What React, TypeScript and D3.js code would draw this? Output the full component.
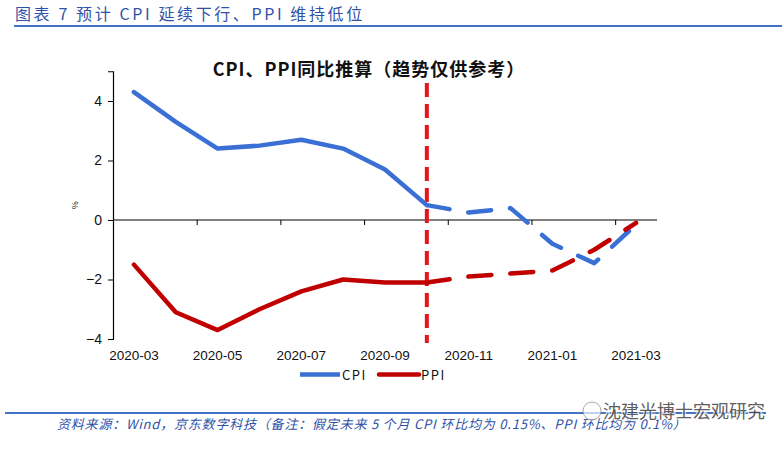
import React, { useEffect, useRef } from 'react';
import * as d3 from 'd3';

const months = [
  '2020-03', '2020-04', '2020-05', '2020-06', '2020-07', '2020-08', '2020-09',
  '2020-10', '2020-11', '2020-12', '2021-01', '2021-02', '2021-03',
];
const cpi = [4.3, 3.3, 2.4, 2.5, 2.7, 2.4, 1.7, 0.5, 0.25, 0.4, -0.8, -1.45, -0.15];
const ppi = [-1.5, -3.1, -3.7, -3.0, -2.4, -2.0, -2.1, -2.1, -1.9, -1.8, -1.7, -1.0, -0.1];
const yTicks = [-4, -2, 0, 2, 4];
// last actual month, forecast starts after it
const splitIndex = 7;

const CPI_COLOR = '#3a6fd6';
const PPI_COLOR = '#c00000';
const MARK_COLOR = '#e4161c';
const BLUE_TEXT = '#2f52a8';
const CJK = '"Noto Sans CJK SC", "Noto Sans", sans-serif';
const LATIN = '"Liberation Sans", Arial, sans-serif';

const App: React.FC = () => {
  const svgRef = useRef<SVGSVGElement>(null);
  const width = 782;
  const height = 451;

  useEffect(() => {
    if (!svgRef.current) return;
    const svg = d3.select(svgRef.current);
    svg.selectAll('*').remove();

    // header
    svg.append('text')
      .attr('x', 15)
      .attr('y', 20)
      .attr('font-family', CJK)
      .attr('font-size', 16)
      .attr('letter-spacing', 2.6)
      .attr('fill', BLUE_TEXT)
      .text('图表 7 预计 CPI 延续下行、PPI 维持低位');
    svg.append('line')
      .attr('x1', 14).attr('x2', width)
      .attr('y1', 26).attr('y2', 26)
      .attr('stroke', '#4472c4')
      .attr('stroke-width', 2);

    // scales
    const x = d3.scaleLinear().domain([-0.5, months.length - 0.5]).range([113, 657]);
    const y = d3.scaleLinear().domain([-4, 5]).range([339, 71.25]);

    // title
    svg.append('text')
      .attr('x', 369)
      .attr('y', 76)
      .attr('text-anchor', 'middle')
      .attr('font-family', CJK)
      .attr('font-size', 18)
      .attr('font-weight', 'bold')
      .attr('letter-spacing', 1)
      .attr('fill', '#111')
      .text('CPI、PPI同比推算（趋势仅供参考）');

    // y axis
    const yAxis = d3.axisLeft(y).tickValues(yTicks).tickSize(5).tickPadding(6);
    const yG = svg.append('g')
      .attr('transform', `translate(${x(-0.5)},0)`)
      .call(yAxis);
    yG.select('.domain').attr('stroke', '#000').attr('stroke-width', 1.2);
    yG.selectAll('.tick line').attr('stroke', '#000');
    yG.selectAll('.tick text')
      .attr('font-family', LATIN)
      .attr('font-size', 14)
      .attr('fill', '#111');

    svg.append('text')
      .attr('transform', `translate(78,${y(0.5)}) rotate(-90)`)
      .attr('text-anchor', 'middle')
      .attr('font-family', LATIN)
      .attr('font-size', 9)
      .attr('fill', '#222')
      .text('%');

    // x axis at zero, ticks between month pairs
    const tickPos = d3.range(1.5, months.length - 0.5, 2);
    const xAxis = d3.axisBottom(x).tickValues(tickPos).tickSize(5).tickFormat(() => '');
    const xG = svg.append('g')
      .attr('transform', `translate(0,${y(0)})`)
      .call(xAxis);
    xG.select('.domain').attr('stroke', '#000').attr('stroke-width', 1.2)
      .attr('d', `M${x(-0.5)},0H${x(months.length - 0.5)}`);
    xG.selectAll('.tick line').attr('stroke', '#000');

    svg.append('g')
      .selectAll('text')
      .data(months.filter((_, i) => i % 2 === 0))
      .enter()
      .append('text')
      .attr('x', (_, i) => x(i * 2))
      .attr('y', 360)
      .attr('text-anchor', 'middle')
      .attr('font-family', LATIN)
      .attr('font-size', 13.5)
      .attr('fill', '#111')
      .text(d => d);

    // vertical marker at last actual month
    svg.append('line')
      .attr('x1', x(splitIndex)).attr('x2', x(splitIndex))
      .attr('y1', 83).attr('y2', 343)
      .attr('stroke', MARK_COLOR)
      .attr('stroke-width', 4)
      .attr('stroke-dasharray', '14,7');

    const line = d3.line<number>()
      .x((_, i) => x(i))
      .y(d => y(d));

    const drawSeries = (values: number[], color: string) => {
      const actual = values.slice(0, splitIndex + 1);
      const forecast = values.map((v, i) => (i >= splitIndex ? v : NaN));
      svg.append('path')
        .attr('d', line(actual) || '')
        .attr('fill', 'none')
        .attr('stroke', color)
        .attr('stroke-width', 4.5)
        .attr('stroke-linejoin', 'round')
        .attr('stroke-linecap', 'round');
      const fLine = d3.line<number>()
        .defined(d => !isNaN(d))
        .x((_, i) => x(i))
        .y(d => y(d));
      svg.append('path')
        .attr('d', fLine(forecast) || '')
        .attr('fill', 'none')
        .attr('stroke', color)
        .attr('stroke-width', 4.5)
        .attr('stroke-linejoin', 'round')
        .attr('stroke-linecap', 'round')
        .attr('stroke-dasharray', '23,19');
    };
    drawSeries(cpi, CPI_COLOR);
    drawSeries(ppi, PPI_COLOR);

    // legend
    const legend = [
      { label: 'CPI', color: CPI_COLOR, cap: 'butt', x0: 300 },
      { label: 'PPI', color: PPI_COLOR, cap: 'round', x0: 379 },
    ];
    const lg = svg.append('g');
    legend.forEach(l => {
      lg.append('line')
        .attr('x1', l.x0).attr('x2', l.x0 + 40)
        .attr('y1', 374.5).attr('y2', 374.5)
        .attr('stroke', l.color)
        .attr('stroke-width', 4.5)
        .attr('stroke-linecap', l.cap);
      lg.append('text')
        .attr('x', l.x0 + 42)
        .attr('y', 379.5)
        .attr('font-family', CJK)
        .attr('font-size', 13)
        .attr('letter-spacing', 1.5)
        .attr('fill', '#111')
        .text(l.label);
    });

    // footer
    svg.append('line')
      .attr('x1', 5).attr('x2', 766)
      .attr('y1', 413).attr('y2', 413)
      .attr('stroke', '#4472c4')
      .attr('stroke-width', 2);
    svg.append('text')
      .attr('x', 57)
      .attr('y', 429)
      .attr('font-family', CJK)
      .attr('font-size', 13)
      .attr('font-style', 'italic')
      .attr('letter-spacing', 0.8)
      .attr('fill', BLUE_TEXT)
      .text('资料来源：Wind，京东数字科技（备注：假定未来 5 个月 CPI 环比均为 0.15%、PPI 环比均为 0.1%）');

    // watermark
    const wm = svg.append('g').attr('opacity', 0.85);
    wm.append('circle')
      .attr('cx', 592).attr('cy', 411).attr('r', 9)
      .attr('fill', 'rgba(255,255,255,0.8)')
      .attr('stroke', '#999').attr('stroke-width', 1);
    wm.append('text')
      .attr('x', 603)
      .attr('y', 418)
      .attr('font-family', CJK)
      .attr('font-size', 18)
      .attr('fill', '#444')
      .attr('stroke', 'rgba(255,255,255,0.9)')
      .attr('stroke-width', 2.5)
      .attr('paint-order', 'stroke')
      .text('沈建光博士宏观研究');
  }, []);

  return (
    <div style={{ position: 'absolute', left: 0, top: 0, background: '#fff' }}>
      <svg ref={svgRef} width={width} height={height} style={{ display: 'block' }} />
    </div>
  );
};

export default App;
